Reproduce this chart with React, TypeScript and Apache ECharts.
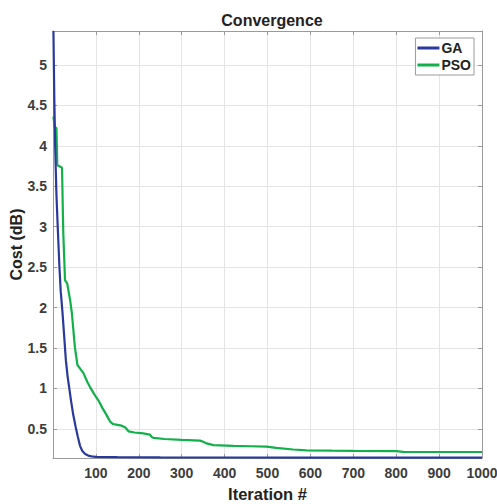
import React, { useEffect, useRef } from "react";
import * as echarts from "echarts";

const gaIter = [1, 3, 5, 8, 11, 15, 18, 22, 26, 30, 34, 38, 42, 47, 53, 58, 63, 68, 75, 82, 90, 100, 150, 250, 400, 600, 1000];
const gaCost = [5.42, 4.6, 4.0, 3.4, 3.0, 2.5, 2.2, 1.95, 1.65, 1.35, 1.15, 1.0, 0.85, 0.68, 0.52, 0.4, 0.29, 0.23, 0.19, 0.17, 0.16, 0.155, 0.15, 0.148, 0.146, 0.145, 0.144];

const psoIter = [1, 4, 8, 10, 14, 21, 24, 28, 33, 40, 44, 51, 57, 64, 71, 80, 86, 96, 106, 115, 125, 133, 140, 150, 160, 168, 176, 190, 210, 226, 230, 234, 260, 300, 343, 350, 358, 374, 420, 460, 498, 520, 560, 591, 650, 700, 800, 816, 1000];
const psoCost = [4.36, 4.23, 4.22, 3.76, 3.75, 3.73, 2.92, 2.34, 2.3, 2.09, 1.93, 1.51, 1.29, 1.24, 1.19, 1.08, 1.02, 0.93, 0.85, 0.76, 0.67, 0.59, 0.56, 0.55, 0.54, 0.52, 0.47, 0.455, 0.445, 0.43, 0.4, 0.39, 0.375, 0.365, 0.355, 0.34, 0.32, 0.3, 0.29, 0.285, 0.28, 0.265, 0.245, 0.235, 0.23, 0.227, 0.226, 0.215, 0.214];

const yTicks = [0.5, 1, 1.5, 2, 2.5, 3, 3.5, 4, 4.5, 5];
const xTicks = [100, 200, 300, 400, 500, 600, 700, 800, 900, 1000];

const FONT = "'Liberation Sans', Arial, sans-serif";
const AXIS_COLOR = "#9a9a9a";
const LABEL_COLOR = "#3c3c3c";
const GRID_COLOR = "#e4e4e4";

export default function App() {
  const ref = useRef<HTMLDivElement>(null);
  useEffect(() => {
    if (!ref.current) return;
    const chart = echarts.init(ref.current, undefined, { renderer: "svg" });
    const xBase = {
      type: "value" as const,
      min: 0,
      max: 1000,
      interval: 100,
      axisLine: { show: true, onZero: false, lineStyle: { color: AXIS_COLOR, width: 1 } },
      axisTick: { show: true, inside: true, length: 4, lineStyle: { color: AXIS_COLOR } },
    };
    const yBase = {
      type: "value" as const,
      min: 0.14,
      max: 5.42,
      axisLine: { show: true, onZero: false, lineStyle: { color: AXIS_COLOR, width: 1 } },
      axisTick: { show: true, inside: true, length: 4, customValues: yTicks, lineStyle: { color: AXIS_COLOR } },
    };
    chart.setOption({
      animation: false,
      backgroundColor: "#ffffff",
      title: {
        text: "Convergence",
        left: 267,
        top: 7,
        textAlign: "center",
        textStyle: { fontFamily: FONT, fontWeight: "bold", fontSize: 16, color: "#222222" },
      },
      grid: { left: 53, right: 15, top: 31, bottom: 46, containLabel: false, outerBoundsMode: "none" },
      legend: {
        orient: "vertical",
        right: 23,
        top: 38,
        padding: [3, 3, 3, 2],
        itemGap: 3,
        itemWidth: 22,
        itemHeight: 3,
        icon: "rect",
        borderColor: "#9a9a9a",
        borderWidth: 1,
        backgroundColor: "#ffffff",
        textStyle: { fontFamily: FONT, fontWeight: "bold", fontSize: 14, color: "#222222", padding: [0, 0, 0, -3] },
        data: ["GA", "PSO"],
      },
      xAxis: [
        {
          ...xBase,
          position: "bottom",
          name: "Iteration #",
          nameLocation: "middle",
          nameGap: 27,
          nameTextStyle: { fontFamily: FONT, fontWeight: "bold", fontSize: 16.5, color: "#222222" },
          axisLabel: {
            margin: 8,
            fontFamily: FONT,
            fontWeight: "bold",
            fontSize: 14,
            color: LABEL_COLOR,
            customValues: xTicks,
            formatter: (v: number) => String(v),
          },
          splitLine: { show: true, lineStyle: { color: GRID_COLOR, width: 1 } },
        },
        {
          ...xBase,
          position: "top",
          axisLabel: { show: false },
          splitLine: { show: false },
        },
      ],
      yAxis: [
        {
          ...yBase,
          position: "left",
          name: "Cost (dB)",
          nameLocation: "middle",
          nameGap: 29,
          nameMoveOverlap: false,
          nameTextStyle: { fontFamily: FONT, fontWeight: "bold", fontSize: 16, color: "#222222" },
          axisLabel: {
            margin: 6,
            fontFamily: FONT,
            fontWeight: "bold",
            fontSize: 14,
            color: LABEL_COLOR,
            customValues: yTicks,
            formatter: (v: number) => String(v),
          },
          splitLine: { show: true, lineStyle: { color: GRID_COLOR, width: 1 } },
        },
        {
          ...yBase,
          position: "right",
          axisLabel: { show: false },
          splitLine: { show: false },
        },
      ],
      series: [
        {
          name: "GA",
          type: "line",
          xAxisIndex: 0,
          yAxisIndex: 0,
          data: gaIter.map((x, i) => [x, gaCost[i]]),
          showSymbol: false,
          smooth: false,
          lineStyle: { color: "#2a3a9c", width: 2.2 },
          itemStyle: { color: "#2a3a9c" },
          z: 3,
        },
        {
          name: "PSO",
          type: "line",
          xAxisIndex: 0,
          yAxisIndex: 0,
          data: psoIter.map((x, i) => [x, psoCost[i]]),
          showSymbol: false,
          smooth: false,
          lineStyle: { color: "#12b04a", width: 2.2 },
          itemStyle: { color: "#12b04a" },
          z: 2,
        },
      ],
    });
    return () => chart.dispose();
  }, []);
  return (
    <div
      ref={ref}
      style={{ position: "absolute", left: 0, top: 0, width: 497, height: 504 }}
    />
  );
}
